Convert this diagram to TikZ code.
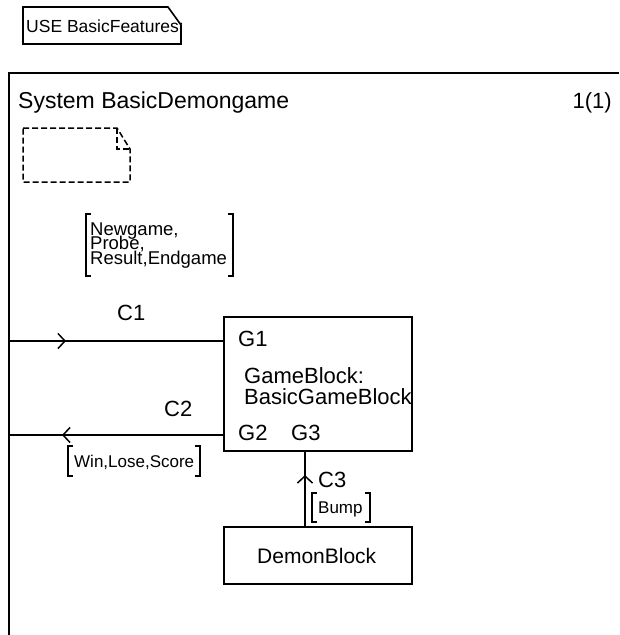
\documentclass[tikz,border=0pt]{standalone}
\usepackage{fontspec}
\setmainfont{Liberation Sans}
\usetikzlibrary{arrows.meta,decorations.markings}
\begin{document}
\begin{tikzpicture}[x=1pt,y=-1pt,
  blockbox/.style={draw,line width=2pt,inner sep=0pt},
  framestyle/.style={line width=2pt},
  bigtxt/.style={font=\fontsize{22}{20}\selectfont,inner sep=0pt,anchor=base west},
  smalltxt/.style={font=\fontsize{17}{14}\selectfont,inner sep=0pt,anchor=base west},
  listtxt/.style={font=\fontsize{18.5}{14}\selectfont,inner sep=0pt,anchor=base west},
  brk/.style={line width=1.8pt},
  chan/.style={line width=2pt,postaction={decorate}},
  chevron/.tip={Straight Barb[length=7pt,width=15pt,line width=1.5pt]},
  midarrow/.style={decoration={markings,mark=at position #1 with {\arrow{chevron}}}}
]
\path[use as bounding box] (0,0) rectangle (619,635);

% USE note (text symbol)
\draw[line width=1.6pt] (23,7) -- (168,7) -- (181,25) -- (181,44) -- (23,44) -- cycle;
\node[smalltxt,font=\fontsize{17.5}{14}\selectfont] (usetxt) at (26,32) {USE BasicFeatures;};

% system frame
\coordinate (ftl) at (9,73);
\coordinate (fbl) at (9,635);
\coordinate (ftr) at (619,73);
\draw[framestyle] (fbl) -- (ftl) -- (ftr);
\node[bigtxt,font=\fontsize{23}{20}\selectfont] (title) at (18,108) {System BasicDemongame};
\node[bigtxt,anchor=base east] (page) at (612,108) {1(1)};

% dashed text symbol
\draw[line width=1.5pt,dash pattern=on 6pt off 3pt]
  (23,128) -- (117,128) -- (130,149) -- (130,182) -- (23,182) -- cycle;
\draw[line width=1.5pt,dash pattern=on 6pt off 3pt] (117,128) -- (117,149) -- (130,149);

% signal list 1
\draw[brk] (91,214) -- (86,214) -- (86,276) -- (91,276);
\draw[brk] (228,214) -- (233,214) -- (233,276) -- (228,276);
\node[listtxt] (s1) at (90,235) {Newgame,};
\node[listtxt] (s2) at (90,249.5) {Probe,};
\node[listtxt] (s3) at (90,264) {Result,Endgame};

% blocks
\node[blockbox,minimum width=188pt,minimum height=134pt,anchor=north west] (game) at (223,316) {};
\node[blockbox,minimum width=188pt,minimum height=57pt,anchor=north west] (demon) at (223,526) {};
\node[bigtxt] (g1) at (238,346) {G1};
\node[bigtxt] (gb1) at (244,383) {GameBlock:};
\node[bigtxt] (gb2) at (244,404) {BasicGameBlock};
\node[bigtxt] (g2) at (238,440) {G2};
\node[bigtxt] (g3) at (291,440) {G3};
\node[bigtxt,font=\fontsize{21}{20}\selectfont] (dtxt) at (257,563) {DemonBlock};

% channel C1
\coordinate (fc1) at (9,341);
\draw[chan,midarrow=57pt] (fc1) -- (fc1 -| game.west);
\node[bigtxt] (c1) at (117,320) {C1};

% channel C2
\coordinate (fc2) at (9,435);
\draw[chan,midarrow=161pt] (fc2 -| game.west) -- (fc2);
\node[bigtxt] (c2) at (164,416) {C2};
\draw[brk] (73,446) -- (68,446) -- (68,476) -- (73,476);
\draw[brk] (195,446) -- (200,446) -- (200,476) -- (195,476);
\node[smalltxt] (s4) at (74,467) {Win,Lose,Score};

% channel C3
\coordinate (c3x) at (305,0);
\draw[chan,midarrow=51pt] (demon.north -| c3x) -- (game.south -| c3x);
\node[bigtxt] (c3) at (318,487) {C3};
\draw[brk] (317,493) -- (312,493) -- (312,522) -- (317,522);
\draw[brk] (365,493) -- (370,493) -- (370,522) -- (365,522);
\node[smalltxt] (s5) at (318,513) {Bump};
\end{tikzpicture}
\end{document}
